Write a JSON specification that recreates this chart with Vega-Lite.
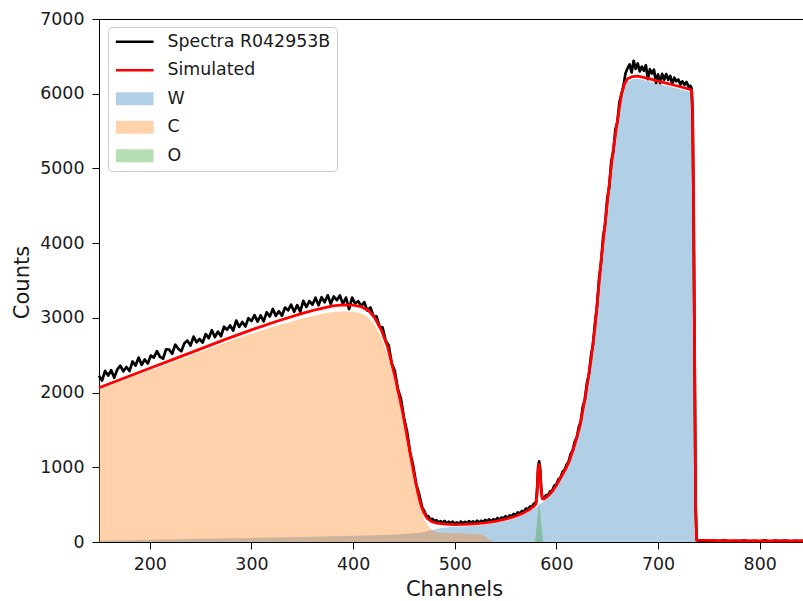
{
  "$schema": "https://vega.github.io/schema/vega-lite/v6.json",
  "width": 705,
  "height": 523,
  "autosize": {"type": "none"},
  "padding": {"left": 99, "top": 19, "right": 0, "bottom": 59},
  "background": "white",
  "config": {
    "view": {"stroke": "#000000", "strokeWidth": 1},
    "axis": {
      "domainColor": "#000000", "domainWidth": 1, "tickColor": "#000000", "tickWidth": 1, "tickSize": 7,
      "labelFont": "DejaVu Sans", "labelFontSize": 17.4, "labelColor": "#1a1a1a",
      "titleFont": "DejaVu Sans", "titleFontSize": 21, "titleFontWeight": "normal", "titleColor": "#1a1a1a",
      "grid": false, "labelFlush": false, "labelOverlap": false
    }
  },
  "datasets": {
    "W": [
      {"s":"W","ch":150,"y":18},{"s":"W","ch":200,"y":30},{"s":"W","ch":250,"y":42},{"s":"W","ch":300,"y":55},{"s":"W","ch":350,"y":68},{"s":"W","ch":400,"y":82},{"s":"W","ch":430,"y":95},{"s":"W","ch":450,"y":108},{"s":"W","ch":465,"y":125},{"s":"W","ch":475,"y":150},{"s":"W","ch":485,"y":185},{"s":"W","ch":495,"y":200},{"s":"W","ch":510,"y":207},{"s":"W","ch":525,"y":220},{"s":"W","ch":540,"y":250},{"s":"W","ch":550,"y":280},{"s":"W","ch":560,"y":318},{"s":"W","ch":570,"y":380},{"s":"W","ch":578,"y":450},{"s":"W","ch":583,"y":500},{"s":"W","ch":588,"y":545},{"s":"W","ch":595,"y":640},{"s":"W","ch":600,"y":735},{"s":"W","ch":605,"y":850},{"s":"W","ch":613,"y":1065},{"s":"W","ch":618,"y":1270},{"s":"W","ch":623,"y":1510},{"s":"W","ch":629,"y":1950},{"s":"W","ch":634,"y":2400},{"s":"W","ch":638,"y":2840},{"s":"W","ch":644,"y":3730},{"s":"W","ch":651,"y":4620},{"s":"W","ch":655,"y":5110},{"s":"W","ch":659,"y":5505},{"s":"W","ch":664,"y":5950},{"s":"W","ch":667,"y":6090},{"s":"W","ch":670,"y":6160},{"s":"W","ch":675,"y":6195},{"s":"W","ch":680,"y":6200},{"s":"W","ch":690,"y":6170},{"s":"W","ch":700,"y":6135},{"s":"W","ch":710,"y":6100},{"s":"W","ch":720,"y":6065},{"s":"W","ch":730,"y":6030},{"s":"W","ch":733,"y":6015},{"s":"W","ch":734,"y":5760},{"s":"W","ch":735,"y":4450},{"s":"W","ch":736,"y":2450},{"s":"W","ch":737,"y":450},{"s":"W","ch":738,"y":0},{"s":"W","ch":843,"y":0}
    ],
    "C": [
      {"s":"C","ch":150,"y":2047},{"s":"C","ch":175,"y":2172},{"s":"C","ch":200,"y":2297},{"s":"C","ch":225,"y":2420},{"s":"C","ch":250,"y":2545},{"s":"C","ch":275,"y":2672},{"s":"C","ch":300,"y":2790},{"s":"C","ch":325,"y":2895},{"s":"C","ch":350,"y":2990},{"s":"C","ch":365,"y":3040},{"s":"C","ch":380,"y":3078},{"s":"C","ch":390,"y":3090},{"s":"C","ch":400,"y":3082},{"s":"C","ch":408,"y":3060},{"s":"C","ch":415,"y":3005},{"s":"C","ch":421,"y":2910},{"s":"C","ch":428,"y":2730},{"s":"C","ch":434,"y":2500},{"s":"C","ch":442,"y":2060},{"s":"C","ch":449,"y":1620},{"s":"C","ch":455,"y":1180},{"s":"C","ch":460,"y":810},{"s":"C","ch":464,"y":560},{"s":"C","ch":467,"y":410},{"s":"C","ch":470,"y":300},{"s":"C","ch":474,"y":210},{"s":"C","ch":478,"y":150},{"s":"C","ch":483,"y":128},{"s":"C","ch":490,"y":120},{"s":"C","ch":500,"y":117},{"s":"C","ch":510,"y":113},{"s":"C","ch":520,"y":108},{"s":"C","ch":526,"y":100},{"s":"C","ch":530,"y":70},{"s":"C","ch":535,"y":25},{"s":"C","ch":538,"y":0}
    ],
    "O": [
      {"s":"O","ch":579,"y":0},{"s":"O","ch":583,"y":540},{"s":"O","ch":587,"y":0}
    ],
    "sim": [
      {"s":"Simulated","ch":150,"y":2065},{"s":"Simulated","ch":175,"y":2195},{"s":"Simulated","ch":200,"y":2325},{"s":"Simulated","ch":225,"y":2455},{"s":"Simulated","ch":250,"y":2585},{"s":"Simulated","ch":275,"y":2715},{"s":"Simulated","ch":300,"y":2840},{"s":"Simulated","ch":325,"y":2955},{"s":"Simulated","ch":350,"y":3060},{"s":"Simulated","ch":365,"y":3115},{"s":"Simulated","ch":380,"y":3160},{"s":"Simulated","ch":390,"y":3175},{"s":"Simulated","ch":400,"y":3170},{"s":"Simulated","ch":408,"y":3150},{"s":"Simulated","ch":415,"y":3100},{"s":"Simulated","ch":421,"y":3008},{"s":"Simulated","ch":428,"y":2830},{"s":"Simulated","ch":434,"y":2607},{"s":"Simulated","ch":442,"y":2163},{"s":"Simulated","ch":449,"y":1718},{"s":"Simulated","ch":455,"y":1272},{"s":"Simulated","ch":460,"y":900},{"s":"Simulated","ch":464,"y":640},{"s":"Simulated","ch":467,"y":480},{"s":"Simulated","ch":470,"y":380},{"s":"Simulated","ch":473,"y":316},{"s":"Simulated","ch":477,"y":275},{"s":"Simulated","ch":482,"y":252},{"s":"Simulated","ch":490,"y":238},{"s":"Simulated","ch":500,"y":232},{"s":"Simulated","ch":510,"y":235},{"s":"Simulated","ch":520,"y":242},{"s":"Simulated","ch":530,"y":255},{"s":"Simulated","ch":540,"y":275},{"s":"Simulated","ch":550,"y":305},{"s":"Simulated","ch":560,"y":345},{"s":"Simulated","ch":567,"y":385},{"s":"Simulated","ch":573,"y":430},{"s":"Simulated","ch":578,"y":480},{"s":"Simulated","ch":580,"y":510},{"s":"Simulated","ch":581,"y":650},{"s":"Simulated","ch":582,"y":950},{"s":"Simulated","ch":583,"y":1040},{"s":"Simulated","ch":584,"y":950},{"s":"Simulated","ch":585,"y":700},{"s":"Simulated","ch":586,"y":580},{"s":"Simulated","ch":588,"y":575},{"s":"Simulated","ch":592,"y":620},{"s":"Simulated","ch":596,"y":680},{"s":"Simulated","ch":600,"y":760},{"s":"Simulated","ch":605,"y":880},{"s":"Simulated","ch":610,"y":1000},{"s":"Simulated","ch":613,"y":1095},{"s":"Simulated","ch":618,"y":1300},{"s":"Simulated","ch":623,"y":1540},{"s":"Simulated","ch":629,"y":1986},{"s":"Simulated","ch":634,"y":2431},{"s":"Simulated","ch":638,"y":2876},{"s":"Simulated","ch":644,"y":3767},{"s":"Simulated","ch":651,"y":4658},{"s":"Simulated","ch":655,"y":5150},{"s":"Simulated","ch":659,"y":5548},{"s":"Simulated","ch":664,"y":5994},{"s":"Simulated","ch":667,"y":6130},{"s":"Simulated","ch":670,"y":6200},{"s":"Simulated","ch":675,"y":6230},{"s":"Simulated","ch":680,"y":6235},{"s":"Simulated","ch":690,"y":6205},{"s":"Simulated","ch":700,"y":6168},{"s":"Simulated","ch":710,"y":6135},{"s":"Simulated","ch":720,"y":6100},{"s":"Simulated","ch":730,"y":6065},{"s":"Simulated","ch":733,"y":6050},{"s":"Simulated","ch":734,"y":5800},{"s":"Simulated","ch":735,"y":4500},{"s":"Simulated","ch":736,"y":2500},{"s":"Simulated","ch":737,"y":500},{"s":"Simulated","ch":738,"y":25},{"s":"Simulated","ch":760,"y":18},{"s":"Simulated","ch":800,"y":15},{"s":"Simulated","ch":843,"y":15}
    ],
    "spec": [
      {"s":"Spectra R042953B","ch":150,"y":2225},{"s":"Spectra R042953B","ch":153,"y":2160},{"s":"Spectra R042953B","ch":156,"y":2290},{"s":"Spectra R042953B","ch":159,"y":2228},{"s":"Spectra R042953B","ch":162,"y":2300},{"s":"Spectra R042953B","ch":165,"y":2200},{"s":"Spectra R042953B","ch":168,"y":2310},{"s":"Spectra R042953B","ch":171,"y":2360},{"s":"Spectra R042953B","ch":174,"y":2285},{"s":"Spectra R042953B","ch":177,"y":2342},{"s":"Spectra R042953B","ch":180,"y":2288},{"s":"Spectra R042953B","ch":183,"y":2416},{"s":"Spectra R042953B","ch":186,"y":2361},{"s":"Spectra R042953B","ch":189,"y":2468},{"s":"Spectra R042953B","ch":192,"y":2371},{"s":"Spectra R042953B","ch":195,"y":2443},{"s":"Spectra R042953B","ch":198,"y":2389},{"s":"Spectra R042953B","ch":201,"y":2495},{"s":"Spectra R042953B","ch":204,"y":2469},{"s":"Spectra R042953B","ch":207,"y":2554},{"s":"Spectra R042953B","ch":210,"y":2479},{"s":"Spectra R042953B","ch":213,"y":2453},{"s":"Spectra R042953B","ch":216,"y":2580},{"s":"Spectra R042953B","ch":219,"y":2575},{"s":"Spectra R042953B","ch":222,"y":2520},{"s":"Spectra R042953B","ch":225,"y":2641},{"s":"Spectra R042953B","ch":228,"y":2587},{"s":"Spectra R042953B","ch":231,"y":2553},{"s":"Spectra R042953B","ch":234,"y":2660},{"s":"Spectra R042953B","ch":237,"y":2696},{"s":"Spectra R042953B","ch":240,"y":2628},{"s":"Spectra R042953B","ch":243,"y":2749},{"s":"Spectra R042953B","ch":246,"y":2673},{"s":"Spectra R042953B","ch":249,"y":2717},{"s":"Spectra R042953B","ch":252,"y":2669},{"s":"Spectra R042953B","ch":255,"y":2783},{"s":"Spectra R042953B","ch":258,"y":2728},{"s":"Spectra R042953B","ch":261,"y":2834},{"s":"Spectra R042953B","ch":264,"y":2744},{"s":"Spectra R042953B","ch":267,"y":2816},{"s":"Spectra R042953B","ch":270,"y":2754},{"s":"Spectra R042953B","ch":273,"y":2881},{"s":"Spectra R042953B","ch":276,"y":2840},{"s":"Spectra R042953B","ch":279,"y":2898},{"s":"Spectra R042953B","ch":282,"y":2829},{"s":"Spectra R042953B","ch":285,"y":2963},{"s":"Spectra R042953B","ch":288,"y":2880},{"s":"Spectra R042953B","ch":291,"y":2945},{"s":"Spectra R042953B","ch":294,"y":2883},{"s":"Spectra R042953B","ch":297,"y":2996},{"s":"Spectra R042953B","ch":300,"y":2956},{"s":"Spectra R042953B","ch":303,"y":3037},{"s":"Spectra R042953B","ch":306,"y":2950},{"s":"Spectra R042953B","ch":309,"y":3033},{"s":"Spectra R042953B","ch":312,"y":2953},{"s":"Spectra R042953B","ch":315,"y":3076},{"s":"Spectra R042953B","ch":318,"y":3018},{"s":"Spectra R042953B","ch":321,"y":3120},{"s":"Spectra R042953B","ch":324,"y":3027},{"s":"Spectra R042953B","ch":327,"y":3088},{"s":"Spectra R042953B","ch":330,"y":3029},{"s":"Spectra R042953B","ch":333,"y":3138},{"s":"Spectra R042953B","ch":336,"y":3101},{"s":"Spectra R042953B","ch":339,"y":3176},{"s":"Spectra R042953B","ch":342,"y":3082},{"s":"Spectra R042953B","ch":345,"y":3171},{"s":"Spectra R042953B","ch":348,"y":3084},{"s":"Spectra R042953B","ch":351,"y":3228},{"s":"Spectra R042953B","ch":354,"y":3145},{"s":"Spectra R042953B","ch":357,"y":3224},{"s":"Spectra R042953B","ch":360,"y":3176},{"s":"Spectra R042953B","ch":363,"y":3269},{"s":"Spectra R042953B","ch":366,"y":3170},{"s":"Spectra R042953B","ch":369,"y":3277},{"s":"Spectra R042953B","ch":372,"y":3209},{"s":"Spectra R042953B","ch":375,"y":3302},{"s":"Spectra R042953B","ch":378,"y":3188},{"s":"Spectra R042953B","ch":381,"y":3286},{"s":"Spectra R042953B","ch":384,"y":3237},{"s":"Spectra R042953B","ch":387,"y":3300},{"s":"Spectra R042953B","ch":390,"y":3187},{"s":"Spectra R042953B","ch":393,"y":3272},{"s":"Spectra R042953B","ch":396,"y":3117},{"s":"Spectra R042953B","ch":399,"y":3272},{"s":"Spectra R042953B","ch":402,"y":3192},{"s":"Spectra R042953B","ch":405,"y":3222},{"s":"Spectra R042953B","ch":408,"y":3158},{"s":"Spectra R042953B","ch":411,"y":3210},{"s":"Spectra R042953B","ch":414,"y":3097},{"s":"Spectra R042953B","ch":417,"y":3138},{"s":"Spectra R042953B","ch":420,"y":3025},{"s":"Spectra R042953B","ch":423,"y":3021},{"s":"Spectra R042953B","ch":426,"y":2883},{"s":"Spectra R042953B","ch":429,"y":2870},{"s":"Spectra R042953B","ch":432,"y":2692},{"s":"Spectra R042953B","ch":435,"y":2632},{"s":"Spectra R042953B","ch":438,"y":2390},{"s":"Spectra R042953B","ch":441,"y":2288},{"s":"Spectra R042953B","ch":444,"y":2048},{"s":"Spectra R042953B","ch":447,"y":1920},{"s":"Spectra R042953B","ch":450,"y":1663},{"s":"Spectra R042953B","ch":453,"y":1483},{"s":"Spectra R042953B","ch":456,"y":1205},{"s":"Spectra R042953B","ch":459,"y":1026},{"s":"Spectra R042953B","ch":462,"y":779},{"s":"Spectra R042953B","ch":465,"y":638},{"s":"Spectra R042953B","ch":468,"y":458},
      {"s":"Spectra R042953B","ch":470,"y":415},{"s":"Spectra R042953B","ch":472,"y":347},{"s":"Spectra R042953B","ch":474,"y":346},{"s":"Spectra R042953B","ch":476,"y":300},{"s":"Spectra R042953B","ch":478,"y":310},{"s":"Spectra R042953B","ch":480,"y":281},{"s":"Spectra R042953B","ch":482,"y":292},{"s":"Spectra R042953B","ch":484,"y":258},{"s":"Spectra R042953B","ch":486,"y":280},{"s":"Spectra R042953B","ch":488,"y":256},{"s":"Spectra R042953B","ch":490,"y":283},{"s":"Spectra R042953B","ch":492,"y":247},{"s":"Spectra R042953B","ch":494,"y":271},{"s":"Spectra R042953B","ch":496,"y":254},{"s":"Spectra R042953B","ch":498,"y":273},{"s":"Spectra R042953B","ch":500,"y":247},{"s":"Spectra R042953B","ch":502,"y":263},{"s":"Spectra R042953B","ch":504,"y":243},{"s":"Spectra R042953B","ch":506,"y":274},{"s":"Spectra R042953B","ch":508,"y":249},{"s":"Spectra R042953B","ch":510,"y":270},{"s":"Spectra R042953B","ch":512,"y":246},{"s":"Spectra R042953B","ch":514,"y":278},{"s":"Spectra R042953B","ch":516,"y":259},{"s":"Spectra R042953B","ch":518,"y":276},{"s":"Spectra R042953B","ch":520,"y":252},{"s":"Spectra R042953B","ch":522,"y":285},{"s":"Spectra R042953B","ch":524,"y":262},{"s":"Spectra R042953B","ch":526,"y":285},{"s":"Spectra R042953B","ch":528,"y":262},{"s":"Spectra R042953B","ch":530,"y":295},{"s":"Spectra R042953B","ch":532,"y":279},{"s":"Spectra R042953B","ch":534,"y":303},{"s":"Spectra R042953B","ch":536,"y":277},{"s":"Spectra R042953B","ch":538,"y":306},{"s":"Spectra R042953B","ch":540,"y":290},{"s":"Spectra R042953B","ch":542,"y":321},{"s":"Spectra R042953B","ch":544,"y":297},{"s":"Spectra R042953B","ch":546,"y":328},{"s":"Spectra R042953B","ch":548,"y":319},{"s":"Spectra R042953B","ch":550,"y":345},{"s":"Spectra R042953B","ch":552,"y":323},{"s":"Spectra R042953B","ch":554,"y":356},{"s":"Spectra R042953B","ch":556,"y":344},{"s":"Spectra R042953B","ch":558,"y":377},{"s":"Spectra R042953B","ch":560,"y":360},{"s":"Spectra R042953B","ch":562,"y":396},{"s":"Spectra R042953B","ch":564,"y":383},{"s":"Spectra R042953B","ch":566,"y":414},{"s":"Spectra R042953B","ch":568,"y":408},{"s":"Spectra R042953B","ch":570,"y":448},{"s":"Spectra R042953B","ch":572,"y":438},{"s":"Spectra R042953B","ch":574,"y":475},{"s":"Spectra R042953B","ch":576,"y":475},{"s":"Spectra R042953B","ch":578,"y":515},{"s":"Spectra R042953B","ch":579,"y":520},{"s":"Spectra R042953B","ch":580,"y":535},{"s":"Spectra R042953B","ch":581,"y":700},{"s":"Spectra R042953B","ch":582,"y":1000},{"s":"Spectra R042953B","ch":583,"y":1080},{"s":"Spectra R042953B","ch":584,"y":990},{"s":"Spectra R042953B","ch":585,"y":720},{"s":"Spectra R042953B","ch":586,"y":600},{"s":"Spectra R042953B","ch":588,"y":590},{"s":"Spectra R042953B","ch":590,"y":627},
      {"s":"Spectra R042953B","ch":592,"y":630},{"s":"Spectra R042953B","ch":594,"y":680},{"s":"Spectra R042953B","ch":596,"y":690},{"s":"Spectra R042953B","ch":598,"y":755},{"s":"Spectra R042953B","ch":600,"y":770},{"s":"Spectra R042953B","ch":602,"y":838},{"s":"Spectra R042953B","ch":604,"y":861},{"s":"Spectra R042953B","ch":606,"y":939},{"s":"Spectra R042953B","ch":608,"y":962},{"s":"Spectra R042953B","ch":610,"y":1035},{"s":"Spectra R042953B","ch":612,"y":1073},{"s":"Spectra R042953B","ch":614,"y":1176},{"s":"Spectra R042953B","ch":616,"y":1223},{"s":"Spectra R042953B","ch":618,"y":1340},{"s":"Spectra R042953B","ch":620,"y":1396},{"s":"Spectra R042953B","ch":622,"y":1537},{"s":"Spectra R042953B","ch":624,"y":1614},{"s":"Spectra R042953B","ch":626,"y":1813},{"s":"Spectra R042953B","ch":628,"y":1907},{"s":"Spectra R042953B","ch":630,"y":2125},{"s":"Spectra R042953B","ch":632,"y":2243},{"s":"Spectra R042953B","ch":634,"y":2486},{"s":"Spectra R042953B","ch":636,"y":2644},{"s":"Spectra R042953B","ch":638,"y":2936},{"s":"Spectra R042953B","ch":640,"y":3158},{"s":"Spectra R042953B","ch":642,"y":3530},{"s":"Spectra R042953B","ch":644,"y":3747},{"s":"Spectra R042953B","ch":646,"y":4087},{"s":"Spectra R042953B","ch":648,"y":4256},{"s":"Spectra R042953B","ch":650,"y":4596},{"s":"Spectra R042953B","ch":652,"y":4756},{"s":"Spectra R042953B","ch":654,"y":5097},{"s":"Spectra R042953B","ch":656,"y":5225},{"s":"Spectra R042953B","ch":658,"y":5519},{"s":"Spectra R042953B","ch":660,"y":5617},{"s":"Spectra R042953B","ch":662,"y":5886},{"s":"Spectra R042953B","ch":664,"y":5994},{"s":"Spectra R042953B","ch":666,"y":6105},{"s":"Spectra R042953B","ch":668,"y":6273},{"s":"Spectra R042953B","ch":670,"y":6340},{"s":"Spectra R042953B","ch":672,"y":6392},{"s":"Spectra R042953B","ch":674,"y":6284},{"s":"Spectra R042953B","ch":676,"y":6441},{"s":"Spectra R042953B","ch":678,"y":6333},{"s":"Spectra R042953B","ch":680,"y":6405},{"s":"Spectra R042953B","ch":682,"y":6299},{"s":"Spectra R042953B","ch":684,"y":6363},{"s":"Spectra R042953B","ch":686,"y":6307},{"s":"Spectra R042953B","ch":688,"y":6381},{"s":"Spectra R042953B","ch":690,"y":6195},{"s":"Spectra R042953B","ch":692,"y":6328},{"s":"Spectra R042953B","ch":694,"y":6270},{"s":"Spectra R042953B","ch":696,"y":6323},{"s":"Spectra R042953B","ch":698,"y":6145},{"s":"Spectra R042953B","ch":700,"y":6258},{"s":"Spectra R042953B","ch":702,"y":6141},{"s":"Spectra R042953B","ch":704,"y":6265},{"s":"Spectra R042953B","ch":706,"y":6188},{"s":"Spectra R042953B","ch":708,"y":6262},{"s":"Spectra R042953B","ch":710,"y":6185},{"s":"Spectra R042953B","ch":712,"y":6238},{"s":"Spectra R042953B","ch":714,"y":6131},{"s":"Spectra R042953B","ch":716,"y":6214},{"s":"Spectra R042953B","ch":718,"y":6167},{"s":"Spectra R042953B","ch":720,"y":6190},{"s":"Spectra R042953B","ch":722,"y":6123},{"s":"Spectra R042953B","ch":724,"y":6166},{"s":"Spectra R042953B","ch":726,"y":6119},{"s":"Spectra R042953B","ch":728,"y":6157},{"s":"Spectra R042953B","ch":730,"y":6095},{"s":"Spectra R042953B","ch":732,"y":6105},{"s":"Spectra R042953B","ch":733,"y":6070},{"s":"Spectra R042953B","ch":734,"y":5700},{"s":"Spectra R042953B","ch":735,"y":4400},{"s":"Spectra R042953B","ch":736,"y":2400},{"s":"Spectra R042953B","ch":737,"y":450},{"s":"Spectra R042953B","ch":738,"y":30},
      {"s":"Spectra R042953B","ch":740,"y":12},{"s":"Spectra R042953B","ch":745,"y":22},{"s":"Spectra R042953B","ch":750,"y":8},{"s":"Spectra R042953B","ch":755,"y":18},{"s":"Spectra R042953B","ch":760,"y":10},{"s":"Spectra R042953B","ch":765,"y":24},{"s":"Spectra R042953B","ch":770,"y":6},{"s":"Spectra R042953B","ch":775,"y":16},{"s":"Spectra R042953B","ch":780,"y":12},{"s":"Spectra R042953B","ch":785,"y":20},{"s":"Spectra R042953B","ch":790,"y":8},{"s":"Spectra R042953B","ch":795,"y":15},{"s":"Spectra R042953B","ch":800,"y":10},{"s":"Spectra R042953B","ch":805,"y":22},{"s":"Spectra R042953B","ch":810,"y":6},{"s":"Spectra R042953B","ch":815,"y":18},{"s":"Spectra R042953B","ch":820,"y":12},{"s":"Spectra R042953B","ch":825,"y":20},{"s":"Spectra R042953B","ch":830,"y":8},{"s":"Spectra R042953B","ch":835,"y":16},{"s":"Spectra R042953B","ch":840,"y":12},{"s":"Spectra R042953B","ch":843,"y":14}
    ]
  },
  "encoding": {
    "x": {
      "field": "ch", "type": "quantitative",
      "scale": {"domain": [150, 843.6], "nice": false, "zero": false},
      "axis": {"title": "Channels", "values": [200, 300, 400, 500, 600, 700, 800], "format": "d", "labelPadding": 6, "titleX": 355, "titleY": 53, "titleBaseline": "alphabetic", "titleAnchor": "middle", "titleAlign": "center"}
    },
    "y": {
      "field": "y", "type": "quantitative", "stack": null,
      "scale": {"domain": [0, 7000], "nice": false},
      "axis": {"title": "Counts", "values": [0, 1000, 2000, 3000, 4000, 5000, 6000, 7000], "format": "d", "labelPadding": 8, "titleX": -71, "titleY": 263, "titleAngle": -90, "titleBaseline": "alphabetic", "titleAlign": "center", "titleAnchor": "middle"}
    },
    "color": {
      "field": "s", "type": "nominal",
      "scale": {"domain": ["Spectra R042953B", "Simulated", "W", "C", "O"], "range": ["#000000", "#ff0000", "#1f77b4", "#ff7f0e", "#2ca02c"]},
      "legend": {
        "orient": "none", "legendX": 9, "legendY": 8, "title": null,
        "padding": 6, "rowPadding": 9.5, "labelOffset": 24, "symbolOffset": 12, "labelLimit": 0,
        "labelFont": "DejaVu Sans", "labelFontSize": 17.4, "labelColor": "#1a1a1a",
        "symbolSize": 169, "symbolType": "M-2.9,-1H2.9V1H-2.9Z",
        "strokeColor": "#cccccc", "fillColor": "rgba(255,255,255,0.8)", "cornerRadius": 4,
        "encode": {"symbols": {"update": {
          "shape": {"signal": "(datum.value === 'Spectra R042953B' || datum.value === 'Simulated') ? 'M-2.9,0H2.9' : 'M-2.9,-1H2.9V1H-2.9Z'"},
          "fill": {"signal": "datum.value === 'W' ? '#1f77b4' : datum.value === 'C' ? '#ff7f0e' : datum.value === 'O' ? '#2ca02c' : 'transparent'"},
          "fillOpacity": {"value": 0.35},
          "stroke": {"signal": "datum.value === 'Spectra R042953B' ? '#000000' : datum.value === 'Simulated' ? '#ff0000' : 'transparent'"},
          "strokeWidth": {"signal": "(datum.value === 'Spectra R042953B' || datum.value === 'Simulated') ? 2.5 : 0"},
          "strokeOpacity": {"signal": "(datum.value === 'Spectra R042953B' || datum.value === 'Simulated') ? 1 : 0"},
          "opacity": {"value": 1}
        }}}
      }
    }
  },
  "layer": [
    {"data": {"name": "W"}, "mark": {"type": "area", "fillOpacity": 0.35, "strokeWidth": 0}},
    {"data": {"name": "C"}, "mark": {"type": "area", "fillOpacity": 0.35, "strokeWidth": 0}},
    {"data": {"name": "O"}, "mark": {"type": "area", "fillOpacity": 0.35, "strokeWidth": 0}},
    {"data": {"name": "spec"}, "mark": {"type": "line", "strokeWidth": 2.7, "strokeJoin": "round"}},
    {"data": {"name": "sim"}, "mark": {"type": "line", "strokeWidth": 2.8, "strokeJoin": "round"}}
  ]
}
